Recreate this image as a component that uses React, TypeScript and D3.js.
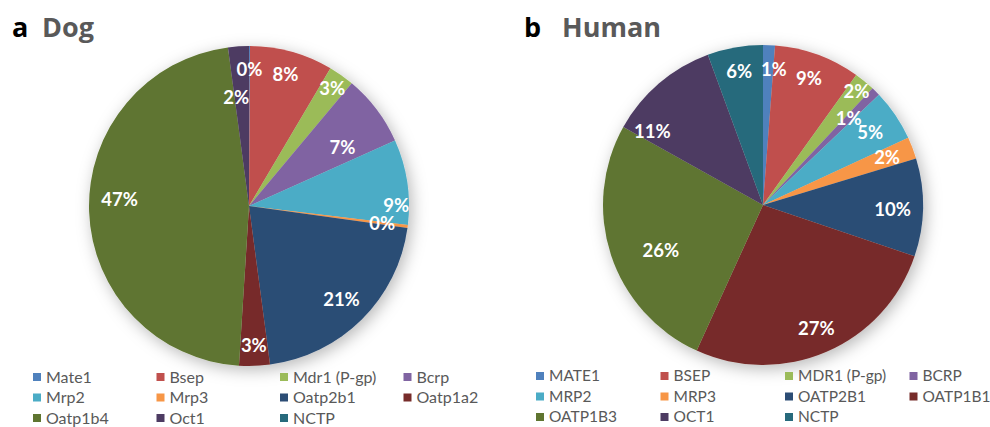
// Two pie charts: transporter share in dog vs human (Excel-style look)
import React from 'react';
import * as d3 from 'd3';

const dogCategories = ['Mate1', 'Bsep', 'Mdr1 (P-gp)', 'Bcrp', 'Mrp2', 'Mrp3', 'Oatp2b1', 'Oatp1a2', 'Oatp1b4', 'Oct1', 'NCTP'];
const dogValues = [0.1, 8.4, 2.6, 7.2, 8.6, 0.3, 20.7, 3.1, 46.9, 2.1, 0];

const humanCategories = ['MATE1', 'BSEP', 'MDR1 (P-gp)', 'BCRP', 'MRP2', 'MRP3', 'OATP2B1', 'OATP1B1', 'OATP1B3', 'OCT1', 'NCTP'];
const humanValues = [1.2, 8.7, 2.1, 0.9, 5.2, 2.2, 9.9, 26.6, 26.3, 11.3, 5.6];

const colors = ['#4f81bd', '#c0504d', '#9bbb59', '#8064a2', '#4bacc6', '#f79646', '#2c4d75', '#772c2a', '#5f7530', '#4d3b62', '#276a7c'];

// label placement tweaks (radius fraction, angle shift in degrees), like Excel's best fit
const dogLabelPos = [[0.85, 0], [0.855, 0], [0.9, 0], [0.69, 5], [0.92, 8.6], [0.84, 0], [0.82, 0], [0.87, 0], [0.81, 5], [0.68, -3], [0.85, 0]];
const humanLabelPos = [[0.85, 2.4], [0.84, 0], [0.92, 0], [0.76, 0], [0.81, 0], [0.83, 0], [0.81, 1], [0.84, 0], [0.7, -6], [0.83, -16], [0.85, 0]];

const R = 160;

function Pie({ cx, cy, values, labelPos }) {
  const pieFn = d3.pie<number>().sort(null).value(d => d);
  const arcFn = d3.arc<d3.PieArcDatum<number>>().innerRadius(0).outerRadius(R);
  const arcs = pieFn(values);
  return (
    <g transform={`translate(${cx},${cy})`}>
      <g filter="url(#shadow)">
        {arcs.map((a, i) => (
          <path key={i} d={arcFn(a) || ''} fill={colors[i]} />
        ))}
      </g>
      {arcs.map((a, i) => {
        if (values[i] === 0) return null;
        const [rf, da] = labelPos[i];
        const ang = (a.startAngle + a.endAngle) / 2 + (da * Math.PI) / 180;
        const x = Math.sin(ang) * rf * R;
        const y = -Math.cos(ang) * rf * R;
        return (
          <text key={'l' + i} x={x} y={y} dy="0.35em" textAnchor="middle"
            fill="#fff" fontFamily="Lato, sans-serif" fontWeight={700} fontSize={18.5}>
            {Math.round(values[i]) + '%'}
          </text>
        );
      })}
    </g>
  );
}

function Legend({ x0, y0, cats, colStep, rowStep, fs }) {
  return (
    <g>
      {cats.map((c, i) => {
        const col = i % 4, row = Math.floor(i / 4);
        const x = x0 + col * colStep, y = y0 + row * rowStep;
        return (
          <g key={c} transform={`translate(${x},${y})`}>
            <rect x={0} y={-4} width={8} height={8} fill={colors[i]} />
            <text x={13} y={0} dy="0.35em" fill="#595959" fontFamily="Lato, sans-serif" fontSize={fs}>{c}</text>
          </g>
        );
      })}
    </g>
  );
}

export default function App() {
  const title = { fontFamily: "'Open Sans', sans-serif", fontWeight: 700, fontSize: 27 };
  return (
    <svg width={990} height={427} style={{ position: 'absolute', left: 0, top: 0, background: '#fff' }}>
      <defs>
        <filter id="shadow" x="-20%" y="-20%" width="140%" height="140%">
          <feDropShadow dx="3" dy="4" stdDeviation="8" floodColor="#000" floodOpacity="0.28" />
        </filter>
      </defs>
      <text x={12} y={37} {...title} fill="#000">a</text>
      <text x={42} y={37} {...title} fill="#595959">Dog</text>
      <text x={524} y={37} {...title} fill="#000">b</text>
      <text x={562} y={37} {...title} fill="#595959">Human</text>

      <Pie cx={249} cy={206} values={dogValues} labelPos={dogLabelPos} />
      <Pie cx={763} cy={205} values={humanValues} labelPos={humanLabelPos} />

      <Legend x0={33} y0={377} cats={dogCategories} colStep={123.5} rowStep={20.5} fs={16} />
      <Legend x0={536} y0={376} cats={humanCategories} colStep={124.5} rowStep={20.5} fs={15.5} />
    </svg>
  );
}
